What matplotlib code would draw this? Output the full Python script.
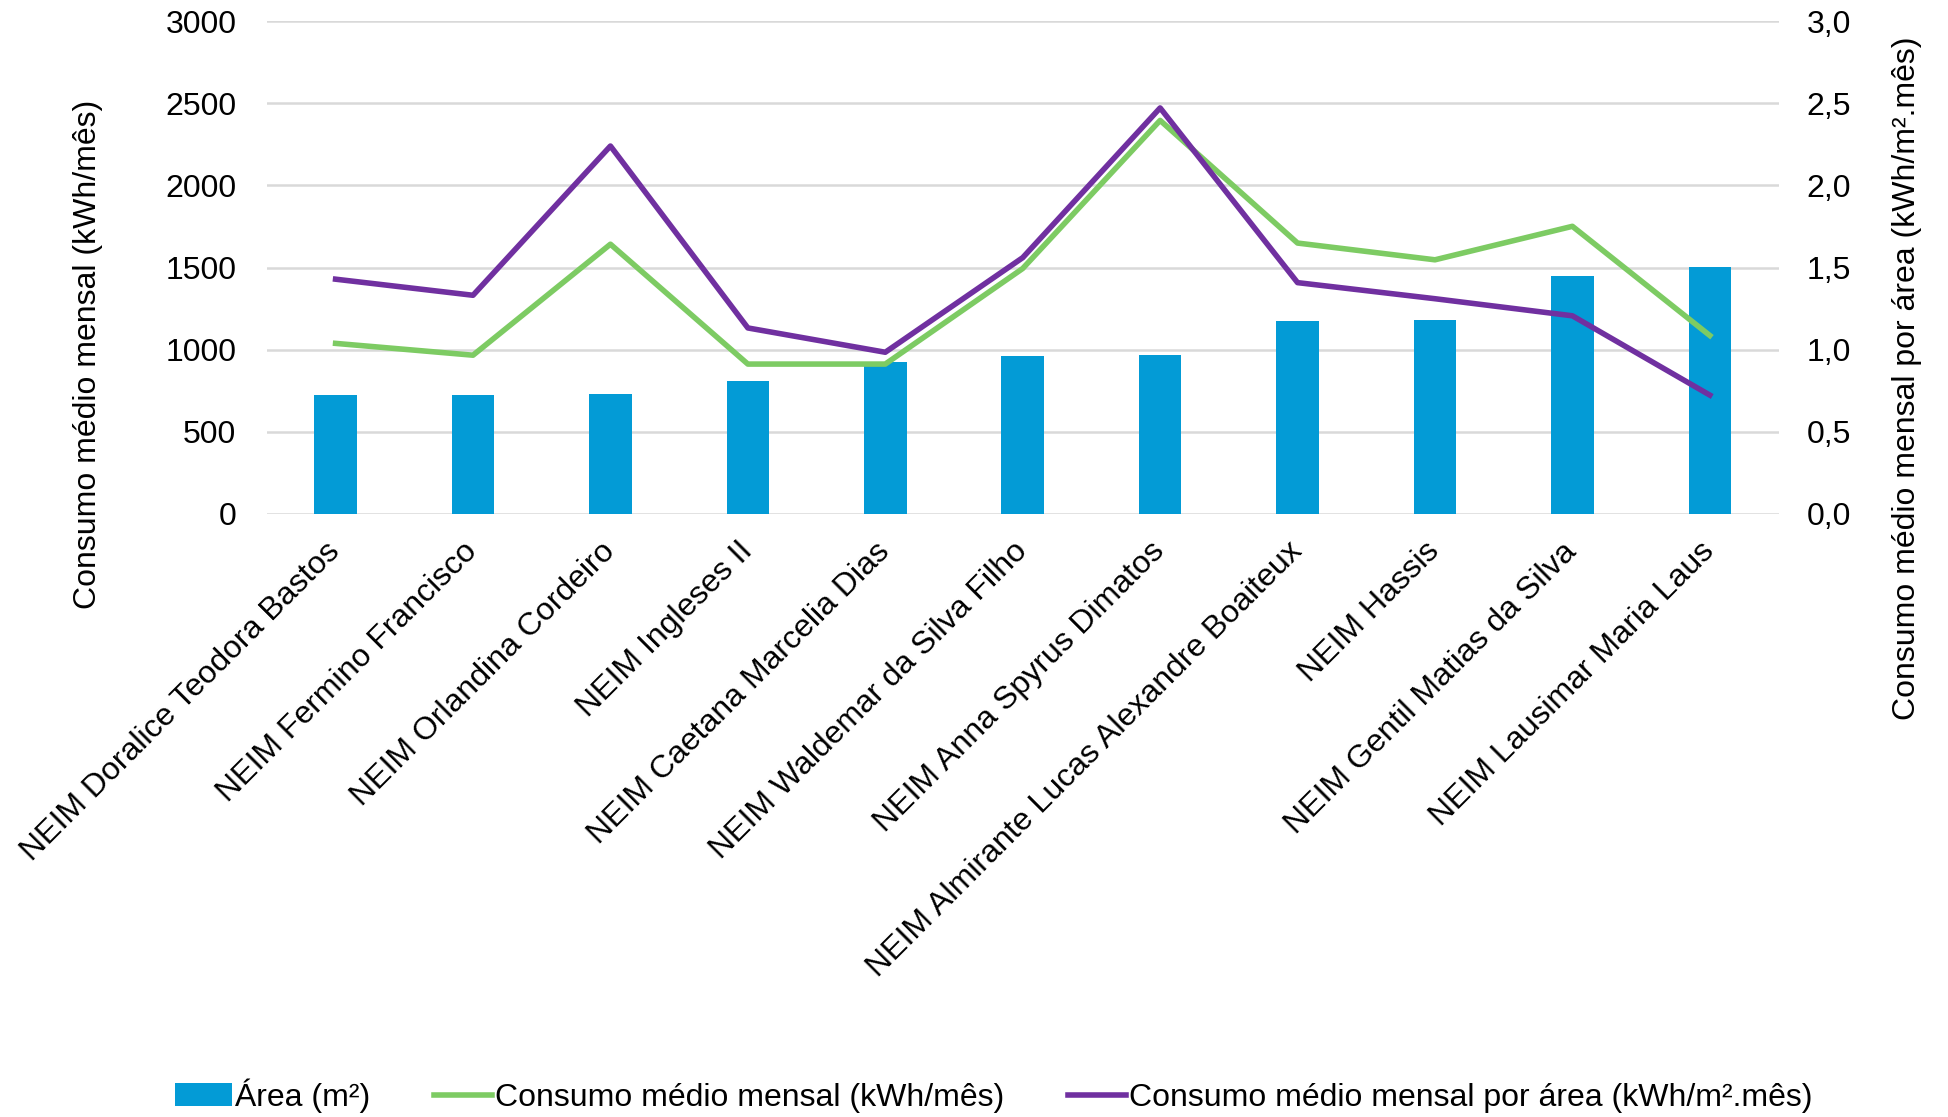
import matplotlib.pyplot as plt
import numpy as np

# Chart data
categories = [
    "NEIM Doralice Teodora Bastos",
    "NEIM Fermino Francisco",
    "NEIM Orlandina Cordeiro",
    "NEIM Ingleses II",
    "NEIM Caetana Marcelia Dias",
    "NEIM Waldemar da Silva Filho",
    "NEIM Anna Spyrus Dimatos",
    "NEIM Almirante Lucas Alexandre Boaiteux",
    "NEIM Hassis",
    "NEIM Gentil Matias da Silva",
    "NEIM Lausimar Maria Laus",
]
area = [723, 723, 732, 806, 923, 960, 969, 1173, 1180, 1449, 1505]
consumo = [1038, 966, 1642, 912, 912, 1494, 2396, 1649, 1547, 1751, 1086]
consumo_area = [1.429, 1.331, 2.240, 1.132, 0.984, 1.560, 2.472, 1.408, 1.310, 1.206, 0.723]

left_ticks = [0, 500, 1000, 1500, 2000, 2500, 3000]
right_ticks = [0.0, 0.5, 1.0, 1.5, 2.0, 2.5, 3.0]

plt.rcParams["font.family"] = ["Liberation Sans", "DejaVu Sans"]
fs = 23

bar_color = "#039BD6"
green = "#7DCB63"
purple = "#7030A0"
grid_color = "#D9D9D9"

fig = plt.figure(figsize=(19.48, 11.17), dpi=100)
ax = fig.add_axes([0.137, 0.540, 0.776, 0.441])
ax2 = ax.twinx()

x = np.arange(len(categories))
ax.bar(x, area, width=0.31, color=bar_color, label="Área (m²)", zorder=2)
ax.plot(x, consumo, color=green, linewidth=4, label="Consumo médio mensal (kWh/mês)", zorder=3)
ax2.plot(x, consumo_area, color=purple, linewidth=4,
         label="Consumo médio mensal por área (kWh/m².mês)", zorder=3)

ax.set_xlim(-0.5, len(categories) - 0.5)
ax.set_ylim(0, 3000)
ax2.set_ylim(0, 3.0)
ax.set_yticks(left_ticks)
ax.set_yticklabels([str(t) for t in left_ticks], fontsize=fs)
ax2.set_yticks(right_ticks)
ax2.set_yticklabels([f"{t:.1f}".replace(".", ",") for t in right_ticks], fontsize=fs)

ax.set_xticks(x)
ax.set_xticklabels(categories, rotation=45, ha="right", va="center",
                   rotation_mode="anchor", fontsize=fs)

ax.yaxis.grid(True, color=grid_color, linewidth=1.8, zorder=0)
ax.set_axisbelow(True)
for a in (ax, ax2):
    for s in a.spines.values():
        s.set_visible(False)
    a.tick_params(length=0)
ax.tick_params(axis="y", pad=22)
ax2.tick_params(axis="y", pad=20)
ax.tick_params(axis="x", pad=24)

# axis titles sit lower than the plot centre, as in the reference
fig.text(0.045, 0.683, "Consumo médio mensal (kWh/mês)", rotation=90,
         ha="center", va="center", fontsize=fs)
fig.text(0.979, 0.661, "Consumo médio mensal por área (kWh/m².mês)", rotation=90,
         ha="center", va="center", fontsize=fs)

h1, l1 = ax.get_legend_handles_labels()
h2, l2 = ax2.get_legend_handles_labels()
order = [1, 0]
handles = [h1[i] for i in order] + h2
labels = [l1[i] for i in order] + l2
fig.legend(handles, labels, loc="lower center", bbox_to_anchor=(0.51, -0.022), ncol=3,
           frameon=False, fontsize=fs, handlelength=1.8, handletextpad=0.1, columnspacing=2.0)

fig.savefig("out.png", dpi=100)
